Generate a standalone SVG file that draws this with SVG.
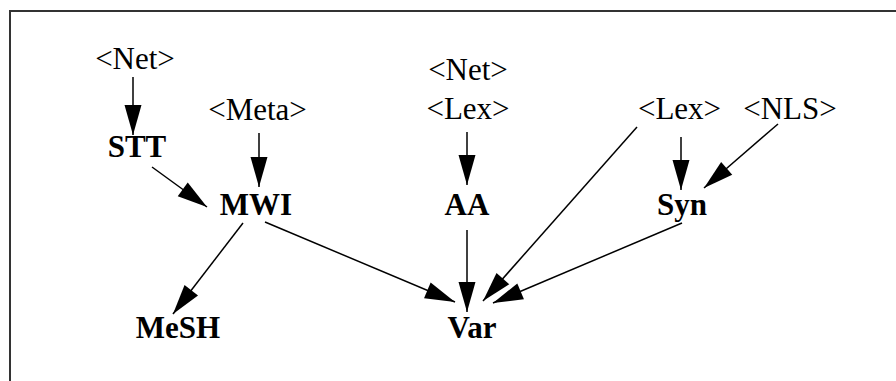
<svg xmlns="http://www.w3.org/2000/svg" width="896" height="381" viewBox="0 0 896 381">
<defs>
<style>
.lbl{font-family:"Liberation Serif","Times New Roman",serif;font-size:31px;fill:#000;text-anchor:middle}
.nd{font-family:"Liberation Serif","Times New Roman",serif;font-size:31px;font-weight:bold;fill:#000;text-anchor:middle}
.ed{stroke:#000;stroke-width:1.5;fill:none;marker-end:url(#ah)}
</style>
<marker id="ah" markerUnits="userSpaceOnUse" markerWidth="32" markerHeight="20" viewBox="-31 -9 32 18" refX="0" refY="0" orient="auto">
<path d="M0,0 L-30,-8.5 L-30,8.5 Z" fill="#000"/>
</marker>
</defs>
<rect x="10" y="11" width="900" height="400" fill="#fff" stroke="#333" stroke-width="2"/>
<g id="src-net1"><text class="lbl" x="135" y="69">&lt;Net&gt;</text></g>
<g id="src-meta"><text class="lbl" x="257.5" y="120">&lt;Meta&gt;</text></g>
<g id="src-net2"><text class="lbl" x="468" y="80">&lt;Net&gt;</text></g>
<g id="src-lex1"><text class="lbl" x="468" y="119">&lt;Lex&gt;</text></g>
<g id="src-lex2"><text class="lbl" x="679.5" y="119">&lt;Lex&gt;</text></g>
<g id="src-nls"><text class="lbl" x="790" y="119">&lt;NLS&gt;</text></g>
<g id="STT"><text class="nd" x="137" y="157">STT</text></g>
<g id="MWI"><text class="nd" x="256" y="215">MWI</text></g>
<g id="AA"><text class="nd" x="467" y="215">AA</text></g>
<g id="Syn"><text class="nd" x="682" y="215">Syn</text></g>
<g id="MeSH"><text class="nd" x="178" y="338">MeSH</text></g>
<g id="Var"><text class="nd" x="472" y="338">Var</text></g>
<g id="connectors">
<line class="ed" x1="133" y1="77" x2="133" y2="135"/>
<line class="ed" x1="259" y1="133" x2="259" y2="187"/>
<line class="ed" x1="152" y1="167" x2="207" y2="207"/>
<line class="ed" x1="467" y1="132" x2="467" y2="185"/>
<line class="ed" x1="681" y1="137" x2="681" y2="190"/>
<line class="ed" x1="778" y1="124" x2="704" y2="188"/>
<line class="ed" x1="637" y1="127" x2="483" y2="301"/>
<line class="ed" x1="467" y1="230" x2="467" y2="312"/>
<line class="ed" x1="682" y1="223" x2="493" y2="303"/>
<line class="ed" x1="265" y1="222" x2="455" y2="302"/>
<line class="ed" x1="243" y1="223" x2="173" y2="314"/>
</g>
</svg>
